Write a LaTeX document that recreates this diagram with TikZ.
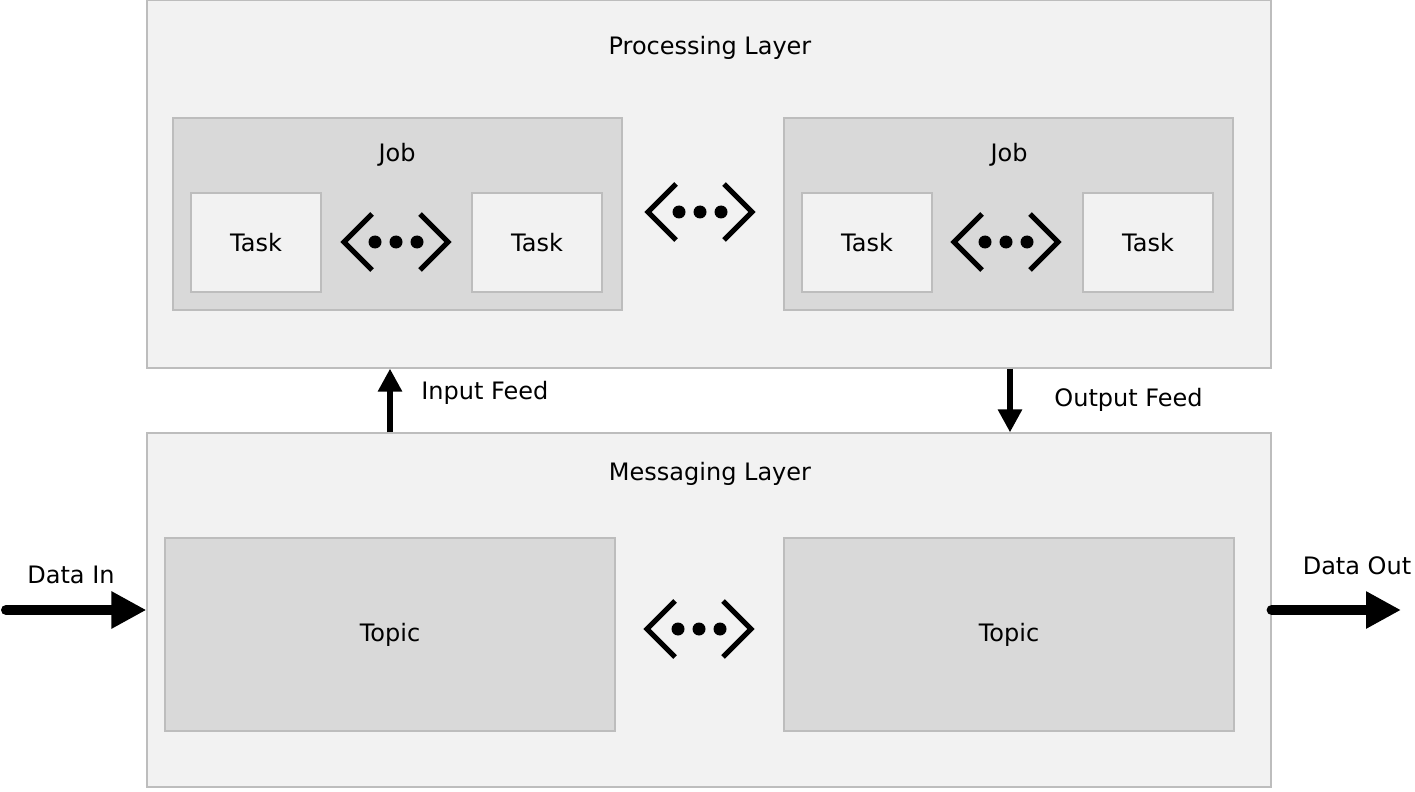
\documentclass[tikz,border=0pt]{standalone}
\usepackage{fontspec}
\setmainfont{DejaVu Sans}
\usetikzlibrary{arrows.meta,fit}
\definecolor{lightbg}{HTML}{F2F2F2}
\definecolor{darkbg}{HTML}{D9D9D9}
\definecolor{edgegray}{HTML}{BDBDBD}

\tikzset{
  layer/.style={draw=edgegray, fill=lightbg, line width=0.6pt, inner sep=0pt},
  group/.style={draw=edgegray, fill=darkbg, line width=0.6pt, inner sep=0pt},
  taskbox/.style={draw=edgegray, fill=lightbg, line width=0.6pt, inner sep=0pt},
  txt/.style={font=\fontsize{12}{14}\selectfont, inner sep=0pt},
  flow/.style={line width=5pt, line cap=round, -{Triangle[length=17.5pt,width=17.5pt]}},
  feed/.style={line width=3pt, -{Triangle[length=11.5pt,width=11.5pt]}},
  etc/.pic={
    \draw[line width=2.6pt] (-24,-28) -- (-52,0) -- (-24,28);
    \draw[line width=2.6pt] (24,-28) -- (52,0) -- (24,28);
    \fill (-21,0) circle (6.5) (0,0) circle (6.5) (21,0) circle (6.5);
  }
}

\begin{document}
\begin{tikzpicture}[x=0.5pt, y=-0.5pt]
  \useasboundingbox (0,0) rectangle (1415,792);

  % processing layer
  \node[layer, fit={(147,0) (1271,368)}] (proc) {};
  \node[txt] (proctitle) at (710,48) {Processing Layer};

  % jobs
  \node[group, fit={(173,118) (622,310)}] (job1) {};
  \node[group, fit={(784,118) (1233,310)}] (job2) {};
  \node[txt] (job1title) at (397,155) {Job};
  \node[txt] (job2title) at (1009,155) {Job};

  % tasks
  \node[taskbox, fit={(191,193) (321,292)}] (task11) {};
  \node[taskbox, fit={(472,193) (602,292)}] (task12) {};
  \node[taskbox, fit={(802,193) (932,292)}] (task21) {};
  \node[taskbox, fit={(1083,193) (1213,292)}] (task22) {};
  \foreach \t in {task11,task12,task21,task22}
    \node[txt] at (\t.center) {Task};

  \pic at (396,242) {etc};
  \pic at (700,212) {etc};
  \pic at (1006,242) {etc};

  % messaging layer
  \node[layer, fit={(147,433) (1271,787)}] (msg) {};
  \node[txt] (msgtitle) at (710,474) {Messaging Layer};

  % topics
  \node[group, fit={(165,538) (615,731)}] (topic1) {};
  \node[group, fit={(784,538) (1234,731)}] (topic2) {};
  \node[txt] at (topic1.center) {Topic};
  \node[txt] at (topic2.center) {Topic};
  \pic at (699,629) {etc};

  % feeds between the layers
  \coordinate (inx) at (390,0);
  \coordinate (outx) at (1010,0);
  \draw[feed] (inx |- msg.north) -- (inx |- proc.south);
  \draw[feed] (outx |- proc.south) -- (outx |- msg.north);
  \node[txt, anchor=west] (infeed) at (421,393) {Input Feed};
  \node[txt, anchor=west] (outfeed) at (1054,400) {Output Feed};

  % data in and out
  \coordinate (src) at (6,610);
  \coordinate (dst) at (1401,610);
  \draw[flow] (src) -- (msg.west);
  \draw[flow] (msg.east) -- (dst);
  \node[txt] (datain) at (71,575) {Data In};
  \node[txt] (dataout) at (1357,566) {Data Out};
\end{tikzpicture}
\end{document}
